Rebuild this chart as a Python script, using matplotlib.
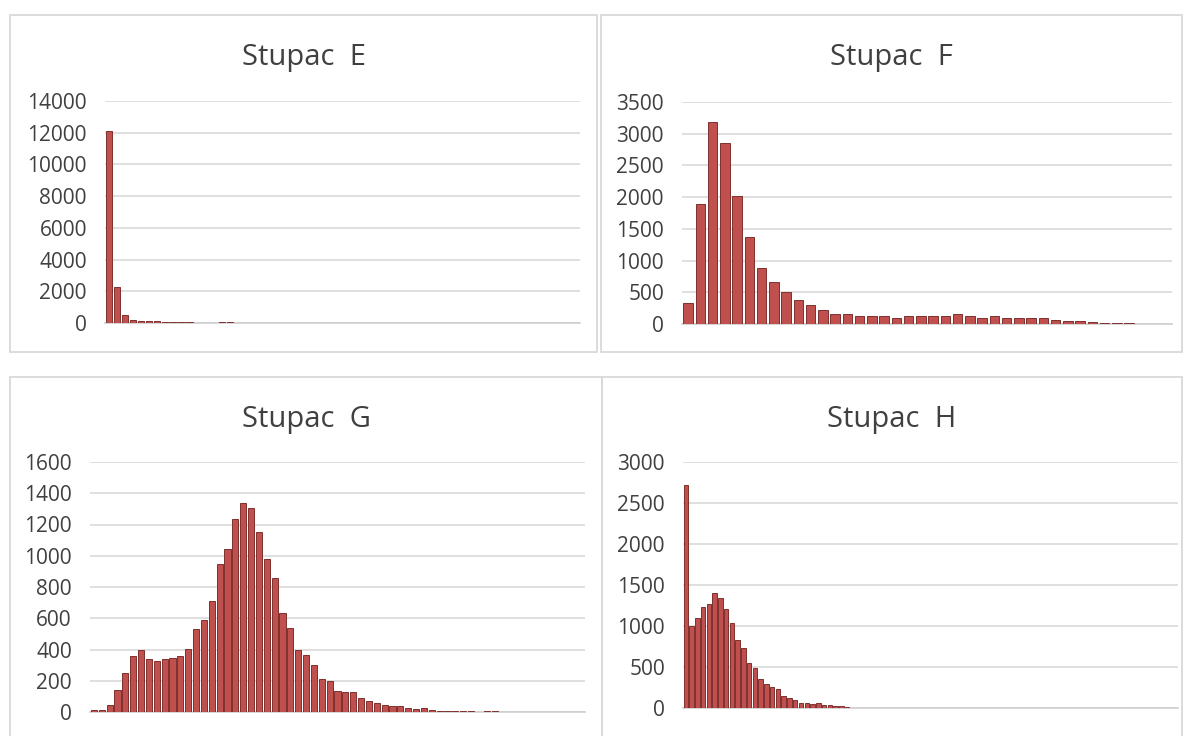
import matplotlib
matplotlib.use("Agg")
import matplotlib.pyplot as plt
from matplotlib.patches import Rectangle

plt.rcParams['font.family'] = ['Open Sans', 'DejaVu Sans']

# ---- data (bar heights per category) ----
titles = ["Stupac  E", "Stupac  F", "Stupac  G", "Stupac  H"]

vals_e = [12100, 2250, 520, 220, 130, 120, 120, 60, 50, 50, 50, 0, 0, 0, 50, 50]
vals_e = vals_e + [0] * (59 - len(vals_e))

vals_f = [325, 1890, 3185, 2860, 2020, 1375, 890, 670, 510, 380, 295, 215, 165, 165,
          130, 130, 130, 100, 130, 130, 130, 130, 165, 130, 100, 130, 100, 100, 100,
          90, 60, 55, 55, 35, 10, 10, 10]
vals_f = vals_f + [0] * (40 - len(vals_f))

vals_g = [10, 15, 43, 143, 250, 358, 395, 337, 326, 339, 348, 356, 401, 533, 591, 710,
          949, 1041, 1237, 1338, 1306, 1152, 977, 858, 634, 538, 398, 362, 298, 211,
          200, 136, 126, 126, 89, 68, 57, 47, 36, 36, 23, 17, 23, 15, 5, 4, 4, 4, 4,
          0, 4, 4]
vals_g = vals_g + [0] * (63 - len(vals_g))

vals_h = [2717, 1002, 1095, 1229, 1269, 1399, 1338, 1208, 1042, 831, 730, 547, 487,
          353, 292, 251, 231, 150, 122, 101, 61, 61, 53, 61, 32, 41, 20, 28, 8, 5, 5,
          5, 5, 5, 5, 0, 5, 5, 5, 0, 5]
vals_h = vals_h + [0] * (86 - len(vals_h))

yticks_e = [0, 2000, 4000, 6000, 8000, 10000, 12000, 14000]
yticks_f = [0, 500, 1000, 1500, 2000, 2500, 3000, 3500]
yticks_g = [0, 200, 400, 600, 800, 1000, 1200, 1400, 1600]
yticks_h = [0, 500, 1000, 1500, 2000, 2500, 3000]

W, H = 1184, 736
fig = plt.figure(figsize=(W / 100, H / 100), dpi=100)

# panel frames in pixels (x0, y0, x1, y1)
panels = [(10, 15, 597, 352), (601, 15, 1182, 352),
          (10, 377, 602, 740), (602, 377, 1182, 740)]
# plot areas in pixels (left, top, right, bottom)
areas = [(105, 101, 580, 323), (682, 102, 1172, 324),
         (90, 462, 585, 712), (683, 462, 1178, 708)]

series = [vals_e, vals_f, vals_g, vals_h]
ticks = [yticks_e, yticks_f, yticks_g, yticks_h]

txt = '#404040'
grid = '#D9D9D9'

for (x0, y0, x1, y1) in panels:
    fig.patches.append(Rectangle((x0 / W, 1 - y1 / H), (x1 - x0) / W, (y1 - y0) / H,
                                 transform=fig.transFigure, fill=False,
                                 edgecolor=grid, linewidth=1.3))

for k in range(4):
    l, t, r, b = areas[k]
    ax = fig.add_axes([l / W, 1 - b / H, (r - l) / W, (b - t) / H])
    v = series[k]
    ax.bar(range(len(v)), v, width=0.78, color='#C0504D', edgecolor='#7F302E',
           linewidth=0.7, zorder=3)
    ax.set_xlim(-0.5, len(v) - 0.5)
    ax.set_ylim(0, ticks[k][-1])
    ax.set_yticks(ticks[k])
    ax.set_xticks([])
    ax.yaxis.grid(True, color=grid, linewidth=1.2)
    ax.set_axisbelow(True)
    for s in ['top', 'right', 'left']:
        ax.spines[s].set_visible(False)
    ax.spines['bottom'].set_color('#CFCFCF')
    ax.spines['bottom'].set_linewidth(1.2)
    ax.tick_params(axis='y', length=0, pad=13, labelsize=15, labelcolor=txt)

    x0, y0, x1, y1 = panels[k]
    fig.text((x0 + x1) / 2 / W, 1 - (y0 + 50) / H, titles[k], ha='center',
             va='baseline', fontsize=21, color=txt)

fig.savefig("out.png", dpi=100)
